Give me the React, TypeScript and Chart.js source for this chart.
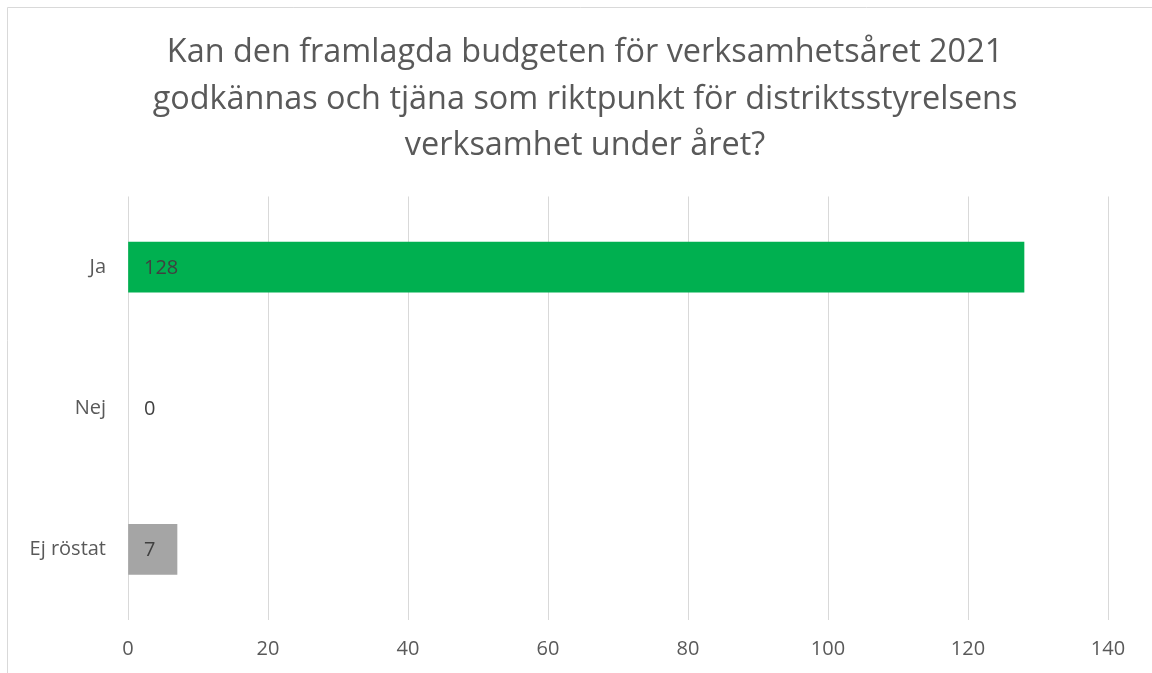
import React, { useEffect, useRef } from "react";
import { Chart, registerables } from "chart.js";

Chart.register(...registerables);

const titleLines = [
  "Kan den framlagda budgeten för verksamhetsåret 2021",
  "godkännas och tjäna som riktpunkt för distriktsstyrelsens",
  "verksamhet under året?",
];
const categories = ["Ja", "Nej", "Ej röstat"];
const votes = [128, 0, 7];
const barColors = ["#00B050", "#00B050", "#A5A5A5"];
const xTicks = { min: 0, max: 140, step: 20 };

const FONT = "'Open Sans', 'Noto Sans', sans-serif";

const frame = {
  id: "frame",
  beforeDraw(chart: any) {
    const ctx = chart.ctx;
    ctx.save();
    ctx.fillStyle = "#ffffff";
    ctx.fillRect(0, 0, chart.width, chart.height);
    ctx.strokeStyle = "#D9D9D9";
    ctx.lineWidth = 1;
    ctx.beginPath();
    ctx.moveTo(7.5, chart.height + 2);
    ctx.lineTo(7.5, 7.5);
    ctx.lineTo(chart.width + 2, 7.5);
    ctx.stroke();
    ctx.restore();
  },
};

// centre the title over the chart frame (x 62..1108) like the original
const titleShift = {
  id: "titleShift",
  afterLayout(chart: any) {
    if (chart.titleBlock) {
      chart.titleBlock.left = 62;
    }
  },
};

const labels = {
  id: "valueLabels",
  afterDatasetsDraw(chart: any) {
    const ctx = chart.ctx;
    const xs = chart.scales.x;
    const meta = chart.getDatasetMeta(0);
    ctx.save();
    ctx.font = `20px ${FONT}`;
    ctx.fillStyle = "#404040";
    ctx.textAlign = "left";
    ctx.textBaseline = "middle";
    meta.data.forEach((el: any, i: number) => {
      const v = chart.data.datasets[0].data[i];
      ctx.fillText(String(v), xs.getPixelForValue(0) + 16, el.y + 1);
    });
    ctx.restore();
  },
};

export default function App() {
  const ref = useRef<HTMLCanvasElement>(null);
  useEffect(() => {
    const chart = new Chart(ref.current!, {
      type: "bar",
      data: {
        labels: categories,
        datasets: [
          {
            data: votes,
            backgroundColor: (c: any) =>
              votes[c.dataIndex] === 0 ? "rgba(0,0,0,0)" : barColors[c.dataIndex],
            barThickness: 50,
            borderWidth: 0,
          },
        ],
      },
      plugins: [frame, titleShift, labels],
      options: {
        indexAxis: "y",
        animation: false,
        responsive: false,
        maintainAspectRatio: false,
        layout: { padding: { left: 0, right: 44, top: 0, bottom: 0 } },
        plugins: {
          legend: { display: false },
          tooltip: { enabled: false },
          title: {
            display: true,
            text: titleLines,
            color: "#595959",
            font: { family: FONT, size: 32.4, weight: "normal", lineHeight: 1.435 },
            padding: { top: 30, bottom: 27 },
          },
        },
        scales: {
          x: {
            min: xTicks.min,
            max: xTicks.max,
            ticks: {
              stepSize: xTicks.step,
              color: "#595959",
              font: { family: FONT, size: 20 },
              padding: 17,
            },
            grid: { color: "#D9D9D9", lineWidth: 1, drawTicks: false },
            border: { display: false },
            afterFit: (s: any) => {
              s.height = 53;
            },
          },
          y: {
            ticks: {
              color: "#595959",
              font: { family: FONT, size: 20 },
              padding: 22,
            },
            grid: { display: false, drawTicks: false },
            border: { display: false },
            afterFit: (s: any) => {
              s.width = 128;
            },
          },
        },
      },
    });
    return () => chart.destroy();
  }, []);
  return (
    <div style={{ position: "absolute", left: 0, top: 0, width: 1152, height: 673 }}>
      <canvas ref={ref} width={1152} height={673} style={{ display: "block" }} />
    </div>
  );
}
